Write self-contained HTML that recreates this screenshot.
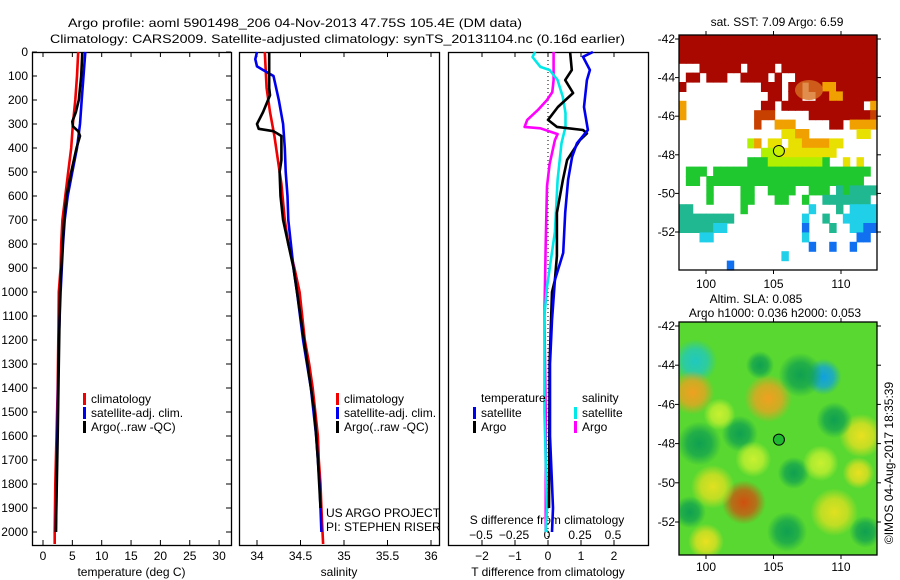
<!DOCTYPE html>
<html><head><meta charset="utf-8"><style>
body{margin:0;background:#fff;}
svg{display:block;font-family:"Liberation Sans",sans-serif;}
text{font-size:12px;fill:#000;}
</style></head><body>
<svg id="c" width="900" height="580" xmlns="http://www.w3.org/2000/svg"></svg>
<script>
// ---- profile data ----
const tClimDepth=[0,100,200,300,400,500,600,700,800,900,1000,1200,1400,1600,1800,2000,2050];
const tClim=[6.0,5.8,5.5,5.1,4.8,4.3,3.8,3.3,3.1,3.0,2.7,2.6,2.5,2.3,2.1,2.0,2.0];
const tSatDepth=[0,100,200,300,400,500,600,700,800,1000,1200,1500,1800,2000];
const tSat=[7.2,6.9,6.6,6.3,5.8,5.0,4.2,3.7,3.4,3.0,2.7,2.5,2.3,2.2];
const tArgoDepth=[0,100,200,250,290,310,330,350,400,500,600,700,1000,1300,1600,2000];
const tArgo=[6.7,6.5,6.1,5.6,5.0,5.1,6.0,6.3,5.7,4.8,4.0,3.6,2.9,2.7,2.5,2.2];
const sClimDepth=[0,150,250,350,450,550,700,800,900,1000,1100,1200,1300,1400,1500,1600,1700,1800,1900,2050];
const sClim=[34.09,34.11,34.15,34.2,34.24,34.28,34.32,34.36,34.43,34.49,34.52,34.55,34.6,34.64,34.67,34.7,34.71,34.73,34.74,34.76];
const sSatDepth=[0,30,60,75,100,200,300,400,500,600,700,800,900,1000,1200,1400,1600,1800,2000];
const sSat=[34.0,33.98,34.0,34.07,34.19,34.25,34.3,34.32,34.33,34.35,34.36,34.39,34.42,34.46,34.53,34.62,34.68,34.72,34.74];
const sArgoDepth=[0,150,180,250,300,320,330,350,450,500,600,700,800,900,1000,1200,1500,1700,1900];
const sArgo=[34.14,34.14,34.15,34.07,34.0,34.02,34.19,34.28,34.28,34.26,34.27,34.3,34.36,34.42,34.46,34.54,34.66,34.7,34.73];
const dTSatDepth=[0,20,75,117,229,325,380,437,533,670,837,950,1117,1300,1600,1900,2000];
const dTSat=[1.36,1.06,1.27,1.18,1.09,1.21,0.88,0.73,0.61,0.52,0.46,0.21,0.12,0.06,0.06,0.15,0.12];
const dTArgoDepth=[0,75,117,171,229,283,312,325,339,367,450,533,670,850,950,1000,1300,1600,1900];
const dTArgo=[0.67,0.72,0.52,0.76,0.3,0.0,0.27,1.06,1.18,0.97,0.58,0.45,0.27,0.27,0.21,0.12,0.05,0.04,0.03];
const dSSatDepth=[0,21,62,75,117,187,254,312,380,533,750,979,1100,1500,1900,2000];
const dSSat=[-0.09,-0.11,-0.05,0.02,0.08,0.12,0.14,0.14,0.11,0.08,0.06,0.0,-0.02,-0.02,0.0,-0.01];
const dSArgoDepth=[0,117,167,200,242,283,312,318,342,367,467,560,800,1100,1500,2000];
const dSArgo=[0.05,0.05,0.04,0.0,-0.07,-0.15,-0.17,-0.05,0.08,0.06,0.02,0.0,-0.01,-0.02,-0.01,-0.01];
const depthTicks=[0,100,200,300,400,500,600,700,800,900,1000,1100,1200,1300,1400,1500,1600,1700,1800,1900,2000];
const tTicks=[0,5,10,15,20,25,30];
const sTicks=[34,34.5,35,35.5,36];
const dTTicks=[-2,-1,0,1,2];
const dSTicks=[-0.5,-0.25,0,0.25,0.5];
// SST map grid (29 cols x 25 rows, 0.5 deg cells)
const sstRows=[
"RRRRRRRRRRRRRRRRRRRRRRRRRRRRR",
"RRRRRRRRRRRRRRRRRRRRRRRRRRRRR",
"RRRRRRRRRRRRRRRRRRRRRRRRRRRRR",
"...RRRRRR.RRRR.RRRRRRRRRRRRRR",
".RR.RRR..RRRR.R..RRRRRRRRRRRR",
"R...........RRR.RR.RRooRRRRRR",
".............RR.RR..RRooRRRRR",
"o...........RR.RRRRRRRRRRRR.o",
"o..........rrr.....RRRRRRRRRr",
"...........r..ooo.....RR.oooo",
"...............yyoo.......yy.",
"..........lo.yy.yyooooyy.....",
"............lllyyyyyyyy......",
"..........gggllllllllg..y.y..",
".ggg.ggggggggggggggggggggggg.",
".gg.ggggggggggggggggggggggg..",
"....g....gg..gggg..ggg.tgtttt",
"....g....gg...gg..g..ttttttt.",
"tt.......g.........c...t.cccc",
"tttttttt..........c..t..ccccc",
"tttttcc...........b...t..ccbb",
"...cc.............c.......bb.",
"...................b..b..b...",
"...............c.............",
".......b....................."];
const sstColors={R:"#a80800",r:"#c84000",o:"#f0a000",y:"#e8e000",l:"#b0f000",g:"#20c830",t:"#20b890",c:"#20d0e8",b:"#1070f0"};
// SLA blobs: lon, lat, radius(px), color
const slaLon=[99.2,108.7,99.0,104.6,111.5,102.8,100.5,109.5,100.0,107.0,102.5,109.5,104.0,106.5,111.3,99.5,101.0,106.0,108.5,103.5,111.8,98.8];
const slaLat=[-43.8,-44.6,-45.4,-45.7,-47.6,-51.0,-50.2,-51.5,-53.0,-44.5,-47.5,-46.8,-44.0,-49.5,-49.5,-48.0,-46.5,-52.5,-49.0,-48.8,-52.5,-51.5];
const slaR=[22,18,22,24,22,22,22,24,18,22,18,18,14,16,16,22,16,20,18,18,16,16];
const slaCol=["#20c8c0","#10a0e0","#f0a020","#f0a020","#e8e020","#d05010","#e0e020","#e0e020","#e8e020","#10a050","#10a050","#10a050","#10a050","#10a050","#e8e020","#10a050","#c8f030","#10a050","#c8f030","#c8f030","#10a050","#10a050"];

const svg=document.getElementById('c');
const NS="http://www.w3.org/2000/svg";
function el(tag,attrs,parent){const e=document.createElementNS(NS,tag);for(const k in attrs)e.setAttribute(k,attrs[k]);(parent||svg).appendChild(e);return e;}
function txt(s,x,y,anchor,parent,size){const t=el('text',{x:x,y:y,'text-anchor':anchor||'start'},parent);if(size)t.setAttribute('font-size',size);t.textContent=s;return t;}

const pTop=52,pBot=545;
const yD=d=>52+d*0.24;

let t1=txt("Argo profile: aoml 5901498_206 04-Nov-2013 47.75S 105.4E (DM data)",68,27,'start',null,14);
t1.setAttribute('textLength','454');
t1.setAttribute('lengthAdjust','spacingAndGlyphs');


let t2=txt("Climatology: CARS2009. Satellite-adjusted climatology: synTS_20131104.nc (0.16d earlier)",50,43,'start',null,14);
t2.setAttribute('textLength','575');
t2.setAttribute('lengthAdjust','spacingAndGlyphs');



function panel(name,x0,x1,xs,xticks,fmt,xlabel,tickLabelY){
  const g=el('g',{});
  
  
  const r=el('rect',{x:x0+0.5,y:pTop+0.5,width:x1-x0,height:pBot-pTop,fill:'none',stroke:'#000','stroke-width':1.3},g);
  
  
  xticks.forEach(v=>{const x=xs(v);
    el('line',{x1:x,x2:x,y1:pTop,y2:pTop+5,stroke:'#000'},g);
    el('line',{x1:x,x2:x,y1:pBot,y2:pBot-5,stroke:'#000'},g);
    if(fmt){const tl=txt(fmt(v),x,tickLabelY,'middle',g);
      
      }
  });
  if(xlabel){const xl=txt(xlabel,(x0+x1)/2,576,'middle',g);
    
    }
  return g;
}
function line(g,xs,depths,vals,color,name,w){
  const pts=depths.map((d,i)=>xs(vals[i]).toFixed(1)+','+yD(d).toFixed(1)).join(' ');
  const p=el('polyline',{points:pts,fill:'none',stroke:color,'stroke-width':w||2.6,'stroke-linejoin':'round'},g);
  
  
}
function legend(g,x,y,color,label){
  el('rect',{x:x-1,y:y-9,width:3,height:12,fill:color},g);
  const t=txt(label,x+7,y+1,'start',g);
  
  
}

// Panel 1 temperature
const xT=v=>43+v*5.87;
const g1=panel('temperature-panel',32,231,xT,tTicks,v=>String(v),'temperature (deg C)',560);
depthTicks.forEach(d=>{const y=yD(d);
  el('line',{x1:32,x2:37,y1:y,y2:y,stroke:'#000'},g1);
  el('line',{x1:231,x2:226,y1:y,y2:y,stroke:'#000'},g1);
  const l=txt(String(d),28,y+4,'end',g1);
  
  
});
line(g1,xT,tClimDepth,tClim,'#f00000','temp-climatology-line');
line(g1,xT,tSatDepth,tSat,'#0000f0','temp-satellite-line');
line(g1,xT,tArgoDepth,tArgo,'#000','temp-argo-line');
legend(g1,84,402,'#f00000','climatology');
legend(g1,84,416,'#0000f0','satellite-adj. clim.');
legend(g1,84,430,'#000','Argo(..raw -QC)');

// Panel 2 salinity
const xS=v=>257+(v-34)*87;
const g2=panel('salinity-panel',239,439,xS,sTicks,v=>String(v),'salinity',560);
line(g2,xS,sClimDepth,sClim,'#f00000','sal-climatology-line');
line(g2,xS,sSatDepth,sSat,'#0000f0','sal-satellite-line');
line(g2,xS,sArgoDepth,sArgo,'#000','sal-argo-line');
legend(g2,337,402,'#f00000','climatology');
legend(g2,337,416,'#0000f0','satellite-adj. clim.');
legend(g2,337,430,'#000','Argo(..raw -QC)');
let pr=txt("US ARGO PROJECT",326,517,'start',g2);


let pi=txt("PI: STEPHEN RISER",326,531,'start',g2);



// Panel 3 differences
const xDT=v=>548+v*33;
const xDS=v=>547+v*132;
const g3=panel('difference-panel',448,648,xDT,dTTicks,v=>v<0?'\u2212'+Math.abs(v):String(v),'T difference from climatology',560);
dSTicks.forEach(v=>{const l=txt(v<0?'\u2212'+Math.abs(v):String(v),xDS(v),539,'middle',g3);
  
  });
let sl=txt("S difference from climatology",547,524,'middle',g3);


let zl=el('line',{x1:548,x2:548,y1:pTop,y2:pBot,stroke:'#000','stroke-dasharray':'1,3'},g3);


line(g3,xDS,dSArgoDepth,dSArgo,'#ff00ff','s-diff-argo-line');
line(g3,xDS,dSSatDepth,dSSat,'#00e8e8','s-diff-satellite-line');
line(g3,xDT,dTArgoDepth,dTArgo,'#000','t-diff-argo-line');
line(g3,xDT,dTSatDepth,dTSat,'#0000f0','t-diff-satellite-line');
let lt=txt("temperature",481,402,'start',g3);


let ls=txt("salinity",582,402,'start',g3);


legend(g3,474,416,'#0000f0','satellite');
legend(g3,474,430,'#000','Argo');
legend(g3,575,416,'#00e8e8','satellite');
legend(g3,575,430,'#ff00ff','Argo');

// ---- Maps ----
const mx0=679,mx1=877;
const lonX=lon=>706+(lon-100)*13.5;
function mapAxes(g,y0,y1,latY,labelY){
  [-42,-44,-46,-48,-50,-52].forEach(la=>{const y=latY(la);
    el('line',{x1:mx0,x2:mx0-4,y1:y,y2:y,stroke:'#000'},g);
    el('line',{x1:mx1,x2:mx1+4,y1:y,y2:y,stroke:'#000'},g);
    const l=txt(String(la),675,y+4,'end',g);
    
    });
  [100,105,110].forEach(lo=>{const x=lonX(lo);
    el('line',{x1:x,x2:x,y1:y0,y2:y0-4,stroke:'#000'},g);
    el('line',{x1:x,x2:x,y1:y1,y2:y1+4,stroke:'#000'},g);
    const l=txt(String(lo),x,labelY,'middle',g);
    
    });
  const f=el('rect',{x:mx0,y:y0,width:mx1-mx0,height:y1-y0,fill:'none',stroke:'#000','stroke-width':1.3},g);
  
  
}
// SST map
const gm1=el('g',{});


const sy0=35,sy1=270;
const latY1=la=>39+(-42-la)*19.3;
const cw=(mx1-mx0)/29,ch=(sy1-sy0)/25;
sstRows.forEach((row,r)=>{[...row].forEach((c,k)=>{if(c==='.')return;
  const cell=el('rect',{x:(mx0+k*cw).toFixed(2),y:(sy0+r*ch).toFixed(2),width:(cw+0.6).toFixed(2),height:(ch+0.6).toFixed(2),fill:sstColors[c]},gm1);
  
  });});
let ob=el('ellipse',{cx:809,cy:90,rx:14,ry:10,fill:'#d87020',opacity:0.8},gm1);


mapAxes(gm1,sy0,sy1,latY1,288);
let c1=el('circle',{cx:lonX(105.4),cy:latY1(-47.8),r:5.5,fill:'#c8f000',stroke:'#000','stroke-width':1},gm1);


let st=txt("sat. SST: 7.09 Argo: 6.59",777,26,'middle',gm1);



// SLA map
const gm2=el('g',{});


const ly0=322,ly1=555;
const latY2=la=>326+(-42-la)*19.6;
const defs=el('defs',{},gm2);
const cp=el('clipPath',{id:'slaclip'},defs);
el('rect',{x:mx0,y:ly0,width:mx1-mx0,height:ly1-ly0},cp);
const inner=el('g',{'clip-path':'url(#slaclip)'},gm2);
let bg=el('rect',{x:mx0,y:ly0,width:mx1-mx0,height:ly1-ly0,fill:'#58d830'},inner);


slaLon.forEach((lo,i)=>{
  const gid='sg'+i;
  const rg=el('radialGradient',{id:gid},defs);
  el('stop',{offset:'0','stop-color':slaCol[i],'stop-opacity':1},rg);
  el('stop',{offset:'0.55','stop-color':slaCol[i],'stop-opacity':0.75},rg);
  el('stop',{offset:'1','stop-color':slaCol[i],'stop-opacity':0},rg);
  const b=el('circle',{cx:lonX(lo),cy:latY2(slaLat[i]),r:slaR[i],fill:'url(#'+gid+')'},inner);
  
  
});
mapAxes(gm2,ly0,ly1,latY2,571);
let c2=el('circle',{cx:lonX(105.4),cy:latY2(-47.8),r:5.5,fill:'#20b830',stroke:'#000','stroke-width':1},gm2);


let a1=txt("Altim. SLA: 0.085",756,303,'middle',gm2);


let a2=txt("Argo h1000: 0.036 h2000: 0.053",775,317,'middle',gm2);



let cr=txt("\u00A9IMOS 04-Aug-2017 18:35:39",0,0,'middle');
cr.setAttribute('transform','translate(893,463) rotate(-90)');


</script>
</body></html>
